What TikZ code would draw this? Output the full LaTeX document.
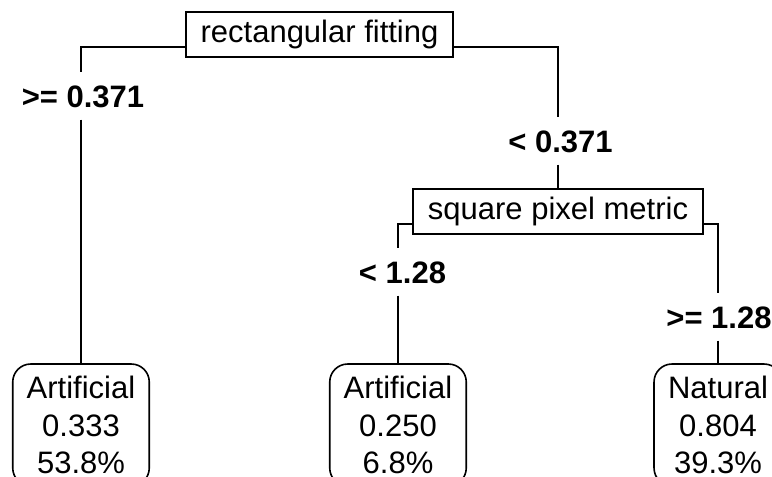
\documentclass[tikz,border=0pt]{standalone}
\usepackage{fontspec}
\setmainfont{Liberation Sans}
\begin{document}
\begin{tikzpicture}[x=1pt,y=-1pt,
  split/.style={draw, line width=1.6pt, minimum height=45pt, inner sep=0pt,
    font=\fontsize{31}{37.5}\selectfont},
  leaf/.style={draw, line width=1.6pt, rounded corners=18pt, align=center,
    inner xsep=14pt, inner ysep=0pt, minimum height=122pt,
    font=\fontsize{31}{37.5}\selectfont},
  cond/.style={font=\bfseries\fontsize{31}{37.5}\selectfont, inner xsep=0pt,
    inner ysep=12.5pt, text height=22pt, text depth=0pt, anchor=base},
  branch/.style={line width=1.6pt}]
\clip (0,0) rectangle (772,477);
\useasboundingbox (0,0) rectangle (772,477);

% split nodes
\node[split, minimum width=267pt] (root) at (319.5,34.5) {rectangular fitting};
\node[split, minimum width=290pt] (metric) at (558,211.5) {square pixel metric};

% leaves
\node[leaf] (leafA) at (81,425) {Artificial\\0.333\\53.8\%};
\node[leaf] (leafB) at (398,425) {Artificial\\0.250\\6.8\%};
\node[leaf] (leafC) at (718,425) {Natural\\0.804\\39.3\%};

% split conditions
\node[cond] (condA) at (83,107) {>= 0.371};
\node[cond] (condB) at (560.5,152) {< 0.371};
\node[cond] (condC) at (402.5,283) {< 1.28};
\node[cond] (condD) at (719,328) {>= 1.28};

% branches
\draw[branch] ([yshift=11pt]root.south west) -| (condA.north -| leafA.north);
\draw[branch] (condA.south -| leafA.north) -- (leafA.north);
\draw[branch] ([yshift=11pt]root.south east) -| (condB.north -| metric.north);
\draw[branch] (condB.south -| metric.north) -- (metric.north);
\draw[branch] ([yshift=11pt]metric.south west) -| (condC.north -| leafB.north);
\draw[branch] (condC.south -| leafB.north) -- (leafB.north);
\draw[branch] ([yshift=11pt]metric.south east) -| (condD.north -| leafC.north);
\draw[branch] (condD.south -| leafC.north) -- (leafC.north);
\end{tikzpicture}
\end{document}
